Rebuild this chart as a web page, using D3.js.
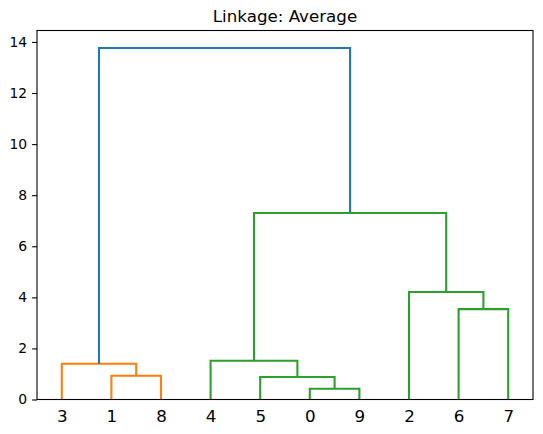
<!DOCTYPE html>
<html>
<head>
<meta charset="utf-8">
<script src="https://cdn.jsdelivr.net/npm/d3@7"></script>
<style>
  html, body { margin: 0; padding: 0; background: #fff; }
  svg { display: block; font-family: "DejaVu Sans", sans-serif; }
</style>
</head>
<body>
<svg id="chart" width="543" height="434"></svg>
<script>
// Leaf labels (observations 0..9)
const leafLabels = ["0", "1", "2", "3", "4", "5", "6", "7", "8", "9"];
// Linkage matrix (scipy style): cluster id = 10 + row index
const linkLeft   = [0, 5, 1, 3, 4, 6, 2, 14, 13];
const linkRight  = [9, 10, 8, 12, 11, 7, 15, 16, 17];
const linkHeight = [0.42, 0.88, 0.93, 1.40, 1.52, 3.54, 4.21, 7.30, 13.76];
const yTicks = [0, 2, 4, 6, 8, 10, 12, 14];
const titleText = "Linkage: Average";
const clusterColors = ["#ff7f0e", "#2ca02c"];
const aboveColor = "#1f77b4";

const W = 543, H = 434;
const margin = { left: 37, right: 10, top: 30.5, bottom: 34.5 };
const x0 = margin.left, x1 = W - margin.right;
const y0 = H - margin.bottom, y1 = margin.top;

const n = leafLabels.length;
const maxH = d3.max(linkHeight);
const threshold = 0.7 * maxH;

const svg = d3.select("#chart");

// Build tree, compute leaf order
function children(id) {
  if (id < n) return null;
  const r = id - n;
  return [linkLeft[r], linkRight[r]];
}
const root = n + linkHeight.length - 1;
const order = [];
(function walk(id) {
  const c = children(id);
  if (!c) { order.push(id); return; }
  walk(c[0]); walk(c[1]);
})(root);

const x = d3.scaleLinear().domain([0, n * 10]).range([x0, x1]);
const y = d3.scaleLinear().domain([0, maxH * 1.05]).range([y0, y1]);

// positions
const pos = {};
order.forEach((id, i) => { pos[id] = { x: 5 + 10 * i, h: 0 }; });
function place(id) {
  if (pos[id]) return pos[id];
  const [a, b] = children(id);
  const pa = place(a), pb = place(b);
  pos[id] = { x: (pa.x + pb.x) / 2, h: linkHeight[id - n] };
  return pos[id];
}
place(root);

// colors: clusters below threshold
const colorOf = {};
let ci = 0;
(function assign(id, col) {
  const c = children(id);
  if (!c) return;
  let myCol = col;
  if (myCol == null && linkHeight[id - n] < threshold) {
    myCol = clusterColors[ci % clusterColors.length]; ci++;
  }
  colorOf[id] = myCol == null ? aboveColor : myCol;
  assign(c[0], myCol); assign(c[1], myCol);
})(root, null);

// links
const linksData = [];
for (let r = 0; r < linkHeight.length; r++) {
  const id = n + r;
  const a = pos[linkLeft[r]], b = pos[linkRight[r]];
  const la = a.x <= b.x ? a : b;
  const lb = la === a ? b : a;
  linksData.push({ id, pts: [[la.x, la.h], [la.x, pos[id].h], [lb.x, pos[id].h], [lb.x, lb.h]] });
}
const line = d3.line().x(d => x(d[0])).y(d => y(d[1]));
svg.append("g").selectAll("path").data(linksData).join("path")
  .attr("d", d => line(d.pts))
  .attr("fill", "none")
  .attr("stroke", d => colorOf[d.id])
  .attr("stroke-width", 2.1)
  .attr("stroke-linejoin", "miter")
  .attr("stroke-linecap", "butt");

// frame
svg.append("rect")
  .attr("x", x0).attr("y", y1).attr("width", x1 - x0).attr("height", y0 - y1)
  .attr("fill", "none").attr("stroke", "#000").attr("stroke-width", 1.1);

// y axis
const yAxis = d3.axisLeft(y).tickValues(yTicks).tickSize(4.9).tickPadding(4.9).tickFormat(d3.format("d"));
const gy = svg.append("g").attr("transform", `translate(${x0},0)`).call(yAxis);
gy.select(".domain").remove();
gy.selectAll(".tick line").attr("stroke", "#000").attr("stroke-width", 1.1);
gy.selectAll(".tick text").attr("font-size", "13.9px").attr("fill", "#000").attr("font-family", "DejaVu Sans");

// x leaf labels
const xAxis = d3.axisBottom(x).tickValues(order.map((id, i) => 5 + 10 * i))
  .tickSize(0).tickPadding(11)
  .tickFormat((d, i) => leafLabels[order[i]]);
const gx = svg.append("g").attr("transform", `translate(0,${y0})`).call(xAxis);
gx.select(".domain").remove();
gx.selectAll(".tick line").remove();
gx.selectAll(".tick text").attr("font-size", "16.7px").attr("fill", "#000").attr("font-family", "DejaVu Sans");

// title
svg.append("text")
  .attr("x", (x0 + x1) / 2).attr("y", 21.5)
  .attr("text-anchor", "middle")
  .attr("font-size", "16.7px")
  .attr("fill", "#000")
  .text(titleText);
</script>
</body>
</html>
